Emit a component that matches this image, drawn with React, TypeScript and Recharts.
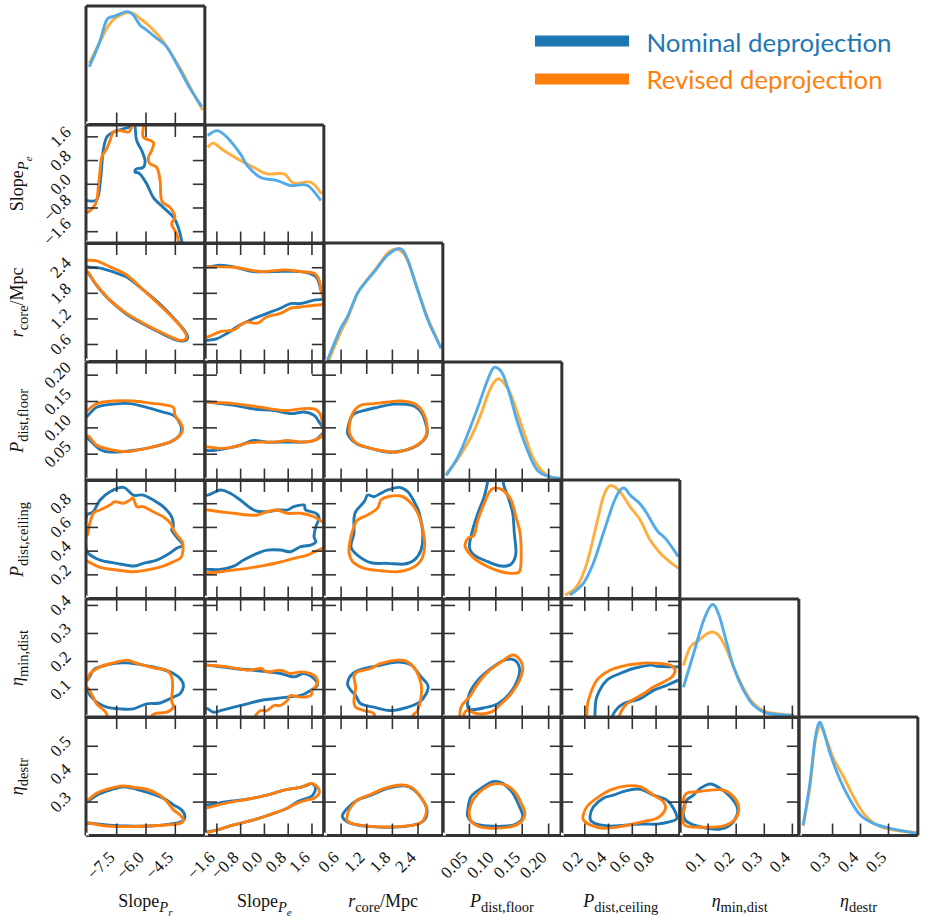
import React from 'react';
import { LineChart, Line, XAxis, YAxis } from 'recharts';

type P = [number, number];

// ---------------- parameters / axes ----------------
const paramDomains: [number, number][] = [
  [-9.07, -2.99], [-2.0, 2.0], [0.2, 2.98], [0.0, 0.225], [0.0, 1.0], [0.0, 0.423], [0.18, 0.605],
];
const paramTicks: number[][] = [
  [-7.5, -6.0, -4.5],
  [-1.6, -0.8, 0.0, 0.8, 1.6],
  [0.6, 1.2, 1.8, 2.4],
  [0.05, 0.1, 0.15, 0.2],
  [0.2, 0.4, 0.6, 0.8],
  [0.1, 0.2, 0.3, 0.4],
  [0.3, 0.4, 0.5],
];
const paramDecimals = [1, 1, 1, 2, 1, 1, 1];
const densityDomain: [number, number] = [0, 1.05];
const legendLabels = ['Nominal deprojection', 'Revised deprojection'];
// [text, level(0 main,1 sub,2 subsub), italic]
const paramTitles: [string, number, boolean][][] = [
  [['Slope', 0, false], ['P', 1, true], ['r', 2, true]],
  [['Slope', 0, false], ['P', 1, true], ['e', 2, true]],
  [['r', 0, true], ['core', 1, false], ['/Mpc', 0, false]],
  [['P', 0, true], ['dist,floor', 1, false]],
  [['P', 0, true], ['dist,ceiling', 1, false]],
  [['\u03b7', 0, true], ['min,dist', 1, false]],
  [['\u03b7', 0, true], ['destr', 1, false]],
];

// ---------------- 1D densities (diagonal) ----------------
const d00N: P[] = [[-8.90, 0.512], [-8.40, 0.719], [-8.01, 0.926], [-7.59, 0.961], [-6.99, 1.0], [-6.65, 0.970], [-6.31, 0.882], [-5.97, 0.837], [-5.45, 0.764], [-4.94, 0.689], [-4.26, 0.483], [-3.75, 0.321], [-3.15, 0.158]];
const d00R: P[] = [[-8.90, 0.542], [-8.35, 0.734], [-8.01, 0.852], [-7.59, 0.941], [-6.99, 0.991], [-6.65, 0.985], [-6.31, 0.941], [-5.80, 0.867], [-5.12, 0.734], [-4.26, 0.498], [-3.58, 0.276], [-3.10, 0.128]];
const d11N: P[] = [[-1.91, 0.957], [-1.59, 1.0], [-1.26, 0.942], [-0.81, 0.795], [-0.58, 0.691], [-0.14, 0.587], [0.43, 0.558], [0.88, 0.514], [1.45, 0.514], [1.90, 0.381]];
const d11R: P[] = [[-1.91, 0.853], [-1.71, 0.889], [-1.37, 0.824], [-0.81, 0.736], [-0.36, 0.676], [0.09, 0.617], [0.66, 0.617], [0.99, 0.534], [1.56, 0.543], [1.93, 0.440]];
const d22N: P[] = [[0.28, 0.013], [0.59, 0.294], [0.75, 0.397], [0.98, 0.604], [1.18, 0.707], [1.41, 0.811], [1.69, 0.944], [1.98, 1.0], [2.16, 0.899], [2.39, 0.634], [2.63, 0.368], [2.94, 0.117]];
const d22R: P[] = [[0.30, 0.0], [0.59, 0.26], [0.75, 0.38], [0.98, 0.60], [1.18, 0.71], [1.41, 0.82], [1.69, 0.96], [1.90, 0.995], [2.05, 0.96], [2.16, 0.89], [2.39, 0.64], [2.63, 0.38], [2.94, 0.12]];
const d33N: P[] = [[0.006, 0.044], [0.028, 0.206], [0.047, 0.414], [0.066, 0.649], [0.084, 0.886], [0.094, 0.99], [0.102, 1.0], [0.113, 0.945], [0.126, 0.768], [0.141, 0.517], [0.160, 0.266], [0.179, 0.089], [0.205, 0.03], [0.222, 0.02]];
const d33R: P[] = [[0.006, 0.059], [0.028, 0.192], [0.053, 0.384], [0.072, 0.591], [0.088, 0.797], [0.104, 0.901], [0.123, 0.813], [0.135, 0.680], [0.154, 0.414], [0.173, 0.177], [0.198, 0.044], [0.222, 0.02]];
const d44N: P[] = [[0.076, 0.031], [0.188, 0.135], [0.272, 0.312], [0.356, 0.578], [0.441, 0.844], [0.497, 0.961], [0.54, 0.975], [0.581, 0.917], [0.666, 0.837], [0.722, 0.755], [0.806, 0.607], [0.890, 0.518], [0.988, 0.370]];
const d44R: P[] = [[0.034, 0.031], [0.132, 0.105], [0.217, 0.312], [0.301, 0.666], [0.356, 0.902], [0.413, 1.0], [0.497, 0.946], [0.581, 0.813], [0.666, 0.696], [0.750, 0.518], [0.834, 0.403], [0.918, 0.323], [0.988, 0.268]];
const d55N: P[] = [[0.012, 0.268], [0.048, 0.564], [0.084, 0.859], [0.114, 1.0], [0.137, 0.919], [0.161, 0.711], [0.191, 0.446], [0.227, 0.239], [0.263, 0.106], [0.311, 0.038], [0.406, 0.018]];
const d55R: P[] = [[0.012, 0.461], [0.036, 0.623], [0.066, 0.682], [0.096, 0.742], [0.119, 0.756], [0.143, 0.711], [0.167, 0.594], [0.191, 0.446], [0.227, 0.254], [0.263, 0.121], [0.311, 0.047], [0.406, 0.018]];
const d66N: P[] = [[0.195, 0.093], [0.219, 0.463], [0.237, 0.846], [0.252, 1.0], [0.267, 0.935], [0.291, 0.728], [0.327, 0.492], [0.363, 0.315], [0.399, 0.182], [0.446, 0.108], [0.506, 0.064], [0.601, 0.019]];
const d66R: P[] = [[0.195, 0.084], [0.219, 0.432], [0.237, 0.817], [0.255, 0.964], [0.279, 0.846], [0.303, 0.684], [0.339, 0.521], [0.375, 0.344], [0.411, 0.197], [0.458, 0.093], [0.518, 0.049], [0.601, 0.025]];

// ---------------- 2D contours (row param = y, col param = x) ----------------
const c10N: P[] = [[-9.4, -0.55], [-9.07, -0.55], [-8.52, -0.52], [-8.35, 0.01], [-8.27, 0.57], [-8.19, 1.14], [-8.01, 1.59], [-7.67, 1.76], [-7.16, 1.87], [-6.82, 1.96], [-6.74, 2.3], [-6.6, 2.3], [-6.55, 1.9], [-6.48, 1.48], [-6.22, 1.14], [-6.05, 0.80], [-6.14, 0.57], [-6.48, 0.52], [-6.56, 0.41], [-6.31, 0.35], [-5.96, 0.01], [-5.63, -0.44], [-5.12, -0.78], [-4.60, -1.11], [-4.35, -1.45], [-4.18, -1.90], [-4.12, -2.3]];
const c10R: P[] = [[-9.4, -1.0], [-9.0, -0.95], [-8.70, -0.78], [-8.52, -0.55], [-8.44, -0.10], [-8.35, 0.46], [-8.27, 0.91], [-8.01, 1.20], [-7.84, 1.48], [-7.67, 1.76], [-7.33, 1.81], [-6.91, 1.76], [-6.74, 1.93], [-6.7, 2.3], [-6.15, 2.3], [-6.14, 1.93], [-6.14, 1.59], [-5.63, 1.42], [-5.71, 1.14], [-5.88, 0.91], [-5.80, 0.69], [-5.45, 0.57], [-5.28, 0.13], [-5.20, -0.55], [-4.77, -0.78], [-4.52, -1.11], [-4.69, -1.34], [-4.43, -1.68], [-4.35, -1.90], [-4.33, -2.3]];
const c20N: P[] = [[-9.3, 2.52], [-9.0, 2.42], [-8.35, 2.39], [-7.67, 2.30], [-6.99, 2.18], [-6.14, 1.88], [-5.29, 1.55], [-4.60, 1.23], [-4.09, 0.96], [-3.87, 0.79], [-4.01, 0.69], [-4.43, 0.70], [-5.29, 0.88], [-6.14, 1.08], [-6.99, 1.31], [-7.84, 1.63], [-8.52, 1.98], [-9.0, 2.30], [-9.3, 2.38]];
const c20R: P[] = [[-9.3, 2.62], [-9.0, 2.58], [-8.52, 2.56], [-7.84, 2.42], [-6.99, 2.23], [-6.14, 1.88], [-5.29, 1.52], [-4.60, 1.21], [-4.09, 0.94], [-3.92, 0.78], [-4.09, 0.70], [-4.43, 0.72], [-5.29, 0.90], [-6.14, 1.10], [-6.99, 1.33], [-7.84, 1.64], [-8.52, 1.99], [-9.0, 2.31], [-9.3, 2.4]];
const c30N: P[] = [[-9.3, 0.12], [-9.07, 0.120], [-8.52, 0.139], [-7.67, 0.145], [-6.82, 0.146], [-5.97, 0.139], [-5.12, 0.130], [-4.60, 0.124], [-4.35, 0.114], [-4.18, 0.098], [-4.35, 0.083], [-4.77, 0.073], [-5.63, 0.064], [-6.65, 0.057], [-7.84, 0.054], [-8.35, 0.059], [-8.86, 0.076], [-9.07, 0.083], [-9.3, 0.083]];
const c30R: P[] = [[-9.3, 0.13], [-9.00, 0.133], [-8.52, 0.146], [-7.67, 0.151], [-6.65, 0.151], [-5.80, 0.147], [-5.12, 0.144], [-4.60, 0.139], [-4.52, 0.124], [-4.26, 0.111], [-4.12, 0.098], [-4.26, 0.086], [-4.60, 0.076], [-5.12, 0.069], [-5.97, 0.061], [-6.99, 0.055], [-7.84, 0.059], [-8.52, 0.067], [-8.90, 0.083], [-9.07, 0.086], [-9.3, 0.086]];
const c40N: P[] = [[-9.02, 0.705], [-8.70, 0.732], [-8.35, 0.831], [-7.84, 0.901], [-7.16, 0.938], [-6.65, 0.873], [-6.14, 0.873], [-5.63, 0.831], [-5.12, 0.775], [-4.69, 0.690], [-4.60, 0.606], [-4.69, 0.578], [-4.43, 0.519], [-4.12, 0.451], [-4.43, 0.424], [-4.94, 0.367], [-5.45, 0.325], [-6.14, 0.297], [-6.65, 0.274], [-7.50, 0.297], [-8.35, 0.325], [-8.86, 0.367], [-9.05, 0.409], [-9.1, 0.494], [-9.1, 0.620]];
const c40R: P[] = [[-9.3, 0.52], [-9.0, 0.536], [-8.9, 0.62], [-8.70, 0.719], [-8.35, 0.747], [-7.84, 0.789], [-7.59, 0.817], [-7.16, 0.803], [-6.82, 0.831], [-6.65, 0.846], [-6.48, 0.775], [-6.14, 0.775], [-5.63, 0.732], [-5.12, 0.690], [-4.74, 0.635], [-4.60, 0.578], [-4.35, 0.522], [-4.12, 0.466], [-4.18, 0.353], [-4.60, 0.311], [-5.12, 0.274], [-5.97, 0.241], [-6.65, 0.226], [-7.50, 0.241], [-8.35, 0.263], [-8.95, 0.311], [-9.07, 0.325], [-9.3, 0.33]];
const c50N: P[] = [[-9.3, 0.13], [-9.0, 0.133], [-8.70, 0.169], [-8.35, 0.181], [-7.67, 0.193], [-6.99, 0.195], [-6.14, 0.187], [-5.29, 0.175], [-4.60, 0.157], [-4.18, 0.133], [-4.09, 0.109], [-4.26, 0.085], [-4.60, 0.073], [-5.29, 0.052], [-5.97, 0.049], [-6.65, 0.031], [-7.33, 0.031], [-8.01, 0.037], [-8.52, 0.055], [-8.86, 0.079], [-9.0, 0.097], [-9.3, 0.10]];
const c50R: P[] = [[-9.3, 0.14], [-9.0, 0.133], [-8.86, 0.157], [-8.35, 0.181], [-7.67, 0.195], [-6.99, 0.205], [-6.65, 0.198], [-6.14, 0.187], [-5.45, 0.175], [-4.94, 0.169], [-4.69, 0.145], [-4.64, 0.109], [-4.69, 0.061], [-4.60, 0.037], [-4.94, 0.019], [-5.54, 0.014], [-5.71, 0.001], [-5.8, -0.05], [-7.9, -0.05], [-8.01, 0.013], [-8.52, 0.049], [-8.95, 0.103], [-9.3, 0.11]];
const c60N: P[] = [[-9.3, 0.30], [-9.0, 0.301], [-8.52, 0.325], [-7.84, 0.343], [-7.16, 0.355], [-6.48, 0.346], [-5.80, 0.332], [-5.12, 0.314], [-4.60, 0.290], [-4.18, 0.272], [-4.01, 0.248], [-4.18, 0.230], [-4.77, 0.221], [-5.80, 0.214], [-6.99, 0.214], [-8.01, 0.218], [-8.86, 0.224], [-9.3, 0.225]];
const c60R: P[] = [[-9.3, 0.305], [-9.0, 0.307], [-8.52, 0.332], [-7.84, 0.349], [-7.16, 0.358], [-6.65, 0.353], [-5.97, 0.346], [-5.29, 0.325], [-4.86, 0.296], [-4.60, 0.272], [-4.26, 0.254], [-4.09, 0.236], [-4.26, 0.224], [-4.94, 0.218], [-5.97, 0.214], [-6.99, 0.212], [-8.01, 0.214], [-8.86, 0.224], [-9.3, 0.225]];
const c21N: P[] = [[-2.2, 2.45], [-1.91, 2.42], [-1.48, 2.46], [-1.03, 2.42], [-0.36, 2.31], [0.32, 2.31], [1.22, 2.31], [1.73, 2.19], [1.90, 1.88], [1.99, 1.72], [1.92, 1.66], [1.67, 1.64], [1.22, 1.56], [0.88, 1.56], [0.54, 1.45], [0.09, 1.33], [-0.36, 1.21], [-0.81, 1.06], [-1.26, 0.86], [-1.59, 0.74], [-1.91, 0.70], [-2.2, 0.69]];
const c21R: P[] = [[-2.2, 2.44], [-1.91, 2.42], [-1.03, 2.41], [-0.13, 2.31], [0.66, 2.35], [1.22, 2.31], [1.67, 2.27], [1.84, 2.11], [1.90, 1.88], [1.98, 1.70], [1.99, 1.58], [1.90, 1.53], [1.67, 1.52], [1.22, 1.48], [0.88, 1.45], [0.54, 1.33], [0.09, 1.25], [-0.24, 1.10], [-0.58, 1.13], [-0.81, 1.06], [-1.03, 0.94], [-1.48, 0.90], [-1.91, 0.78], [-2.2, 0.77]];
const c31N: P[] = [[-2.2, 0.151], [-1.91, 0.149], [-1.03, 0.143], [-0.36, 0.136], [0.32, 0.133], [0.88, 0.127], [1.33, 0.130], [1.67, 0.124], [1.84, 0.111], [1.95, 0.102], [1.99, 0.095], [1.95, 0.089], [1.67, 0.076], [1.22, 0.073], [0.77, 0.073], [0.09, 0.073], [-0.36, 0.076], [-0.81, 0.067], [-1.26, 0.061], [-1.71, 0.057], [-1.91, 0.057], [-2.2, 0.057]];
const c31R: P[] = [[-2.2, 0.151], [-1.91, 0.149], [-1.03, 0.146], [-0.13, 0.139], [0.66, 0.133], [1.22, 0.136], [1.67, 0.136], [1.87, 0.127], [1.95, 0.111], [1.99, 0.099], [1.95, 0.086], [1.67, 0.076], [1.22, 0.073], [0.77, 0.076], [0.32, 0.073], [-0.13, 0.073], [-0.58, 0.071], [-1.03, 0.064], [-1.48, 0.061], [-1.91, 0.064], [-2.2, 0.065]];
const c41N: P[] = [[-2.2, 0.88], [-1.91, 0.873], [-1.48, 0.916], [-1.15, 0.888], [-0.81, 0.831], [-0.36, 0.747], [0.09, 0.732], [0.43, 0.747], [0.77, 0.747], [0.99, 0.775], [1.33, 0.789], [1.39, 0.747], [1.73, 0.719], [1.84, 0.677], [1.73, 0.606], [1.67, 0.522], [1.73, 0.479], [1.56, 0.451], [1.22, 0.437], [0.88, 0.395], [0.54, 0.409], [0.09, 0.409], [-0.24, 0.381], [-0.70, 0.325], [-1.03, 0.274], [-1.48, 0.246], [-1.91, 0.246], [-2.2, 0.246]];
const c41R: P[] = [[-2.2, 0.75], [-1.91, 0.747], [-1.48, 0.732], [-1.03, 0.719], [-0.58, 0.705], [-0.24, 0.705], [0.09, 0.732], [0.43, 0.747], [0.77, 0.719], [1.22, 0.719], [1.67, 0.690], [1.95, 0.648], [2.2, 0.62], [2.2, 0.44], [1.95, 0.424], [1.45, 0.367], [0.99, 0.339], [0.43, 0.302], [-0.13, 0.274], [-0.58, 0.255], [-1.03, 0.241], [-1.48, 0.226], [-1.91, 0.218], [-2.2, 0.215]];
const c51N: P[] = [[-2.2, 0.19], [-1.91, 0.187], [-1.03, 0.175], [-0.36, 0.169], [0.09, 0.163], [0.54, 0.157], [0.99, 0.145], [1.33, 0.157], [1.67, 0.139], [1.78, 0.115], [1.56, 0.097], [1.22, 0.079], [0.77, 0.073], [0.32, 0.067], [-0.13, 0.061], [-0.58, 0.049], [-1.03, 0.037], [-1.48, 0.025], [-1.71, 0.019], [-1.91, 0.031], [-2.2, 0.04]];
const c51R: P[] = [[-2.2, 0.19], [-1.91, 0.187], [-1.26, 0.181], [-0.58, 0.169], [-0.13, 0.175], [0.09, 0.163], [0.54, 0.169], [0.88, 0.157], [1.22, 0.163], [1.56, 0.157], [1.73, 0.145], [1.78, 0.121], [1.61, 0.097], [1.56, 0.079], [1.22, 0.073], [0.88, 0.079], [0.77, 0.061], [0.54, 0.043], [0.32, 0.043], [0.09, 0.025], [-0.13, 0.025], [-0.30, 0.007], [-0.40, -0.03]];
const c61N: P[] = [[-2.2, 0.29], [-1.91, 0.29], [-1.26, 0.301], [-0.58, 0.310], [0.09, 0.325], [0.66, 0.343], [1.22, 0.353], [1.45, 0.361], [1.60, 0.366], [1.72, 0.351], [1.63, 0.325], [1.45, 0.314], [1.11, 0.301], [0.77, 0.278], [0.32, 0.260], [-0.36, 0.236], [-1.03, 0.218], [-1.59, 0.200], [-1.91, 0.194], [-2.2, 0.19]];
const c61R: P[] = [[-2.2, 0.28], [-1.91, 0.28], [-1.26, 0.297], [-0.58, 0.310], [0.09, 0.325], [0.66, 0.343], [1.22, 0.353], [1.56, 0.367], [1.78, 0.355], [1.84, 0.332], [1.67, 0.314], [1.45, 0.308], [1.11, 0.296], [0.77, 0.278], [0.32, 0.260], [-0.36, 0.236], [-1.03, 0.218], [-1.59, 0.200], [-1.91, 0.191], [-2.2, 0.185]];
const c32N: P[] = [[0.75, 0.095], [0.867, 0.124], [1.14, 0.133], [1.45, 0.139], [1.84, 0.145], [2.24, 0.143], [2.47, 0.130], [2.61, 0.098], [2.59, 0.083], [2.39, 0.067], [2.08, 0.057], [1.69, 0.054], [1.30, 0.061], [0.98, 0.069], [0.79, 0.083]];
const c32R: P[] = [[0.787, 0.098], [0.867, 0.127], [1.06, 0.143], [1.37, 0.146], [1.69, 0.149], [2.0, 0.151], [2.31, 0.146], [2.51, 0.130], [2.61, 0.102], [2.55, 0.080], [2.31, 0.064], [1.92, 0.054], [1.61, 0.056], [1.30, 0.061], [0.98, 0.070], [0.83, 0.083]];
const c42N: P[] = [[0.90, 0.662], [0.94, 0.732], [1.14, 0.817], [1.22, 0.873], [1.37, 0.859], [1.53, 0.888], [1.69, 0.916], [1.96, 0.938], [2.16, 0.901], [2.31, 0.817], [2.43, 0.719], [2.51, 0.550], [2.47, 0.409], [2.31, 0.325], [2.08, 0.291], [1.69, 0.297], [1.30, 0.302], [0.98, 0.367], [0.83, 0.437], [0.90, 0.550]];
const c42R: P[] = [[0.79, 0.437], [0.83, 0.522], [0.90, 0.606], [0.98, 0.662], [1.22, 0.705], [1.45, 0.761], [1.53, 0.831], [1.69, 0.859], [2.0, 0.865], [2.24, 0.803], [2.43, 0.690], [2.55, 0.494], [2.51, 0.353], [2.31, 0.268], [1.92, 0.226], [1.53, 0.235], [1.14, 0.255], [0.87, 0.311], [0.79, 0.381]];
const c52N: P[] = [[0.75, 0.122], [0.87, 0.157], [1.14, 0.175], [1.53, 0.187], [1.92, 0.198], [2.24, 0.187], [2.47, 0.145], [2.63, 0.115], [2.59, 0.085], [2.43, 0.055], [2.16, 0.037], [1.77, 0.025], [1.37, 0.037], [1.06, 0.049], [0.94, 0.079], [0.83, 0.097]];
const c52R: P[] = [[1.37, -0.03], [1.37, 0.013], [1.14, 0.025], [0.94, 0.037], [0.90, 0.061], [0.94, 0.109], [0.90, 0.145], [0.98, 0.163], [1.30, 0.175], [1.53, 0.193], [1.92, 0.205], [2.16, 0.198], [2.35, 0.169], [2.47, 0.121], [2.47, 0.073], [2.39, 0.025], [2.28, 0.007], [2.23, -0.03]];
const c62N: P[] = [[0.63, 0.248], [0.75, 0.278], [0.98, 0.307], [1.30, 0.325], [1.69, 0.349], [2.08, 0.358], [2.31, 0.343], [2.51, 0.307], [2.61, 0.272], [2.55, 0.236], [2.31, 0.218], [1.84, 0.210], [1.30, 0.212], [0.83, 0.224]];
const c62R: P[] = [[0.73, 0.242], [0.79, 0.272], [0.98, 0.307], [1.30, 0.328], [1.61, 0.349], [2.0, 0.361], [2.24, 0.353], [2.43, 0.325], [2.59, 0.283], [2.55, 0.242], [2.39, 0.221], [1.92, 0.212], [1.37, 0.212], [0.90, 0.221], [0.75, 0.233]];
const c43N: P[] = [[0.085, 1.06], [0.085, 1.0], [0.078, 0.859], [0.066, 0.719], [0.056, 0.578], [0.050, 0.437], [0.059, 0.367], [0.085, 0.311], [0.110, 0.274], [0.129, 0.291], [0.138, 0.381], [0.135, 0.550], [0.132, 0.719], [0.123, 0.859], [0.115, 0.958], [0.113, 1.06]];
const c43R: P[] = [[0.097, 0.930], [0.113, 0.916], [0.129, 0.831], [0.138, 0.690], [0.146, 0.550], [0.148, 0.381], [0.146, 0.241], [0.135, 0.213], [0.110, 0.226], [0.085, 0.268], [0.059, 0.339], [0.042, 0.437], [0.047, 0.508], [0.059, 0.536], [0.066, 0.662], [0.078, 0.803], [0.088, 0.901]];
const c53N: P[] = [[0.047, 0.037], [0.050, 0.085], [0.066, 0.133], [0.091, 0.175], [0.116, 0.205], [0.135, 0.205], [0.145, 0.175], [0.141, 0.133], [0.126, 0.085], [0.104, 0.049], [0.078, 0.035], [0.056, 0.028]];
const c53R: P[] = [[0.031, -0.03], [0.034, 0.037], [0.050, 0.073], [0.066, 0.121], [0.085, 0.163], [0.110, 0.198], [0.129, 0.222], [0.141, 0.216], [0.151, 0.181], [0.145, 0.133], [0.129, 0.085], [0.107, 0.043], [0.091, 0.019], [0.066, 0.013], [0.047, 0.025], [0.040, 0.013], [0.036, -0.03]];
const c63N: P[] = [[0.047, 0.272], [0.053, 0.319], [0.072, 0.349], [0.094, 0.373], [0.113, 0.367], [0.132, 0.332], [0.145, 0.283], [0.151, 0.248], [0.141, 0.224], [0.123, 0.214], [0.085, 0.214], [0.059, 0.224], [0.047, 0.248]];
const c63R: P[] = [[0.050, 0.272], [0.059, 0.314], [0.078, 0.349], [0.097, 0.365], [0.119, 0.361], [0.138, 0.332], [0.148, 0.296], [0.155, 0.260], [0.148, 0.230], [0.129, 0.212], [0.097, 0.206], [0.069, 0.212], [0.053, 0.233]];
const c54N: P[] = [[0.286, -0.03], [0.286, 0.013], [0.301, 0.073], [0.385, 0.133], [0.497, 0.157], [0.609, 0.175], [0.750, 0.187], [0.806, 0.183], [0.946, 0.181], [0.988, 0.181], [1.06, 0.18], [1.06, 0.133], [0.988, 0.133], [0.890, 0.115], [0.778, 0.097], [0.666, 0.067], [0.525, 0.049], [0.441, 0.013], [0.421, -0.03]];
const c54R: P[] = [[0.217, -0.03], [0.217, 0.013], [0.230, 0.061], [0.301, 0.133], [0.413, 0.169], [0.553, 0.187], [0.666, 0.193], [0.722, 0.195], [0.834, 0.193], [0.918, 0.187], [0.960, 0.169], [0.933, 0.145], [0.862, 0.127], [0.778, 0.109], [0.693, 0.085], [0.553, 0.049], [0.497, 0.013], [0.472, -0.03]];
const c64N: P[] = [[0.244, 0.248], [0.272, 0.283], [0.356, 0.314], [0.441, 0.325], [0.553, 0.341], [0.666, 0.346], [0.778, 0.325], [0.890, 0.307], [0.946, 0.278], [0.975, 0.242], [0.918, 0.230], [0.806, 0.221], [0.666, 0.221], [0.441, 0.214], [0.329, 0.218], [0.259, 0.230]];
const c64R: P[] = [[0.188, 0.254], [0.217, 0.283], [0.301, 0.314], [0.413, 0.343], [0.553, 0.358], [0.666, 0.355], [0.778, 0.325], [0.862, 0.301], [0.876, 0.272], [0.806, 0.242], [0.693, 0.230], [0.497, 0.212], [0.356, 0.206], [0.244, 0.218], [0.188, 0.236]];
const c65N: P[] = [[0.012, 0.272], [0.024, 0.307], [0.048, 0.325], [0.072, 0.349], [0.108, 0.365], [0.143, 0.349], [0.179, 0.319], [0.203, 0.283], [0.203, 0.254], [0.179, 0.218], [0.143, 0.203], [0.096, 0.206], [0.048, 0.218], [0.018, 0.236]];
const c65R: P[] = [[0.012, 0.307], [0.024, 0.332], [0.060, 0.337], [0.108, 0.343], [0.155, 0.343], [0.191, 0.319], [0.209, 0.283], [0.203, 0.248], [0.179, 0.224], [0.143, 0.212], [0.084, 0.210], [0.030, 0.212], [0.012, 0.224], [0.010, 0.260], [0.018, 0.283]];

const diagonals: [P[], P[]][] = [[d00N, d00R], [d11N, d11R], [d22N, d22R], [d33N, d33R], [d44N, d44R], [d55N, d55R], [d66N, d66R]];
const contours: { row: number; col: number; nom: P[]; rev: P[]; nomClosed: boolean; revClosed: boolean }[] = [
  { row: 1, col: 0, nom: c10N, rev: c10R, nomClosed: false, revClosed: false },
  { row: 2, col: 0, nom: c20N, rev: c20R, nomClosed: false, revClosed: false },
  { row: 3, col: 0, nom: c30N, rev: c30R, nomClosed: false, revClosed: false },
  { row: 4, col: 0, nom: c40N, rev: c40R, nomClosed: true, revClosed: false },
  { row: 5, col: 0, nom: c50N, rev: c50R, nomClosed: false, revClosed: false },
  { row: 6, col: 0, nom: c60N, rev: c60R, nomClosed: false, revClosed: false },
  { row: 2, col: 1, nom: c21N, rev: c21R, nomClosed: false, revClosed: false },
  { row: 3, col: 1, nom: c31N, rev: c31R, nomClosed: false, revClosed: false },
  { row: 4, col: 1, nom: c41N, rev: c41R, nomClosed: false, revClosed: false },
  { row: 5, col: 1, nom: c51N, rev: c51R, nomClosed: false, revClosed: false },
  { row: 6, col: 1, nom: c61N, rev: c61R, nomClosed: false, revClosed: false },
  { row: 3, col: 2, nom: c32N, rev: c32R, nomClosed: true, revClosed: true },
  { row: 4, col: 2, nom: c42N, rev: c42R, nomClosed: true, revClosed: true },
  { row: 5, col: 2, nom: c52N, rev: c52R, nomClosed: true, revClosed: false },
  { row: 6, col: 2, nom: c62N, rev: c62R, nomClosed: true, revClosed: true },
  { row: 4, col: 3, nom: c43N, rev: c43R, nomClosed: false, revClosed: true },
  { row: 5, col: 3, nom: c53N, rev: c53R, nomClosed: true, revClosed: false },
  { row: 6, col: 3, nom: c63N, rev: c63R, nomClosed: true, revClosed: true },
  { row: 5, col: 4, nom: c54N, rev: c54R, nomClosed: false, revClosed: false },
  { row: 6, col: 4, nom: c64N, rev: c64R, nomClosed: true, revClosed: true },
  { row: 6, col: 5, nom: c65N, rev: c65R, nomClosed: true, revClosed: true },
];

// ---------------- styling / layout ----------------
const NOM_C = '#1f77b4';
const REV_C = '#ff7f0e';
const NOM_D = '#52aae6';
const REV_D = '#ffae3e';
const FRAME = '#333333';
const FRAME_W = 3;
const TICK_LEN = 12;
const TICK_FS = 17;
const LINE_W = 2.9;
const SERIF = '"Liberation Serif", "Times New Roman", serif';
const SANS = 'Lato, "DejaVu Sans", sans-serif';

const X0 = 86, Y0 = 6, CW = 118.85, RH = 118.55;
const COL_L = [0, 1, 2, 3, 4, 5, 6].map((i) => X0 + i * CW);
const ROW_T = [0, 1, 2, 3, 4, 5, 6].map((i) => Y0 + i * RH);
const LEFT_M = X0;
const BOTTOM_M = 921 - (Y0 + 7 * RH);
const PAD = 30;

// Catmull-Rom curve factory (handles closed loops and back-tracking paths)
const catmull: any = (context: any) => {
  let pts: number[][] = [];
  return {
    areaStart() {},
    areaEnd() {},
    lineStart() { pts = []; },
    point(x: number, y: number) { pts.push([+x, +y]); },
    lineEnd() {
      const n = pts.length;
      if (!n) return;
      context.moveTo(pts[0][0], pts[0][1]);
      if (n === 1) return;
      const closed = n > 3 && Math.abs(pts[0][0] - pts[n - 1][0]) < 0.01 && Math.abs(pts[0][1] - pts[n - 1][1]) < 0.01;
      for (let i = 0; i < n - 1; i++) {
        const p1 = pts[i];
        const p2 = pts[i + 1];
        const p0 = i > 0 ? pts[i - 1] : closed ? pts[n - 2] : p1;
        const p3 = i + 2 < n ? pts[i + 2] : closed ? pts[1] : p2;
        context.bezierCurveTo(
          p1[0] + (p2[0] - p0[0]) / 6, p1[1] + (p2[1] - p0[1]) / 6,
          p2[0] - (p3[0] - p1[0]) / 6, p2[1] - (p3[1] - p1[1]) / 6,
          p2[0], p2[1],
        );
      }
      if (closed) context.closePath();
    },
  };
};

const toPts = (a: P[], closed: boolean) => {
  const pts = a.map(([x, y]) => ({ x, y }));
  if (closed) pts.push({ x: a[0][0], y: a[0][1] });
  return pts;
};

const fmtTick = (v: number, d: number) => v.toFixed(d).replace('-', '\u2212');
const textLen = (s: string) => {
  let w = 0;
  for (const c of s) w += c === '.' ? 0.25 : c === '\u2212' ? 0.564 : 0.5;
  return w * TICK_FS;
};

const EmptyTick = () => <g />;

const RotLabel = ({ ax, ay, s }: { ax: number; ay: number; s: string }) => (
  <g transform={`translate(${ax} ${ay}) rotate(-45)`}>
    <text x={0} y={0} textAnchor="end" fontFamily={SERIF} fontSize={TICK_FS} fill="#111">
      {s}
    </text>
  </g>
);

const makeXLabel = (dec: number, baseY: number) => (props: any) => {
  const s = fmtTick(props.payload.value, dec);
  return <RotLabel ax={props.x - 1} ay={baseY} s={s} />;
};

const makeYLabel = (dec: number, baseX: number) => (props: any) => {
  const s = fmtTick(props.payload.value, dec);
  const L = textLen(s);
  return <RotLabel ax={baseX} ay={props.y - 0.354 * (L - 11)} s={s} />;
};

const LEVEL_FS = [18, 14.5, 11];
const LEVEL_OFF = [0, 5, 9];

function Title({ parts }: { parts: [string, number, boolean][] }) {
  let prev = 0;
  return (
    <>
      {parts.map(([t, lvl, it], i) => {
        const dy = LEVEL_OFF[lvl] - LEVEL_OFF[prev];
        prev = lvl;
        return (
          <tspan key={i} dy={dy} fontSize={LEVEL_FS[lvl]} fontStyle={it ? 'italic' : 'normal'}>
            {t}
          </tspan>
        );
      })}
    </>
  );
}

function Panel({ row, col, children }: { row: number; col: number; children: React.ReactNode }) {
  const diag = row === col;
  const ML = col === 0 ? LEFT_M : 0;
  const MB = row === 6 ? BOTTOM_M : 0;
  const w = CW + ML + 2 * PAD;
  const h = RH + MB + 2 * PAD;
  const xd = paramDomains[col];
  const yd = diag ? densityDomain : paramDomains[row];
  const frameLine = { stroke: FRAME, strokeWidth: FRAME_W };
  const tickLine = { stroke: FRAME, strokeWidth: 1.6 };
  const xTick = row === 6 ? makeXLabel(paramDecimals[col], PAD + RH + 23) : EmptyTick;
  const yTick = col === 0 && !diag ? makeYLabel(paramDecimals[row], PAD + ML - 14) : EmptyTick;
  return (
    <div style={{ position: 'absolute', left: COL_L[col] - ML - PAD, top: ROW_T[row] - PAD, width: w, height: h }}>
      <LineChart width={w} height={h} margin={{ top: PAD, right: PAD, bottom: MB + PAD, left: ML + PAD }}>
        <XAxis xAxisId="b" dataKey="x" type="number" domain={xd} allowDataOverflow orientation="bottom" mirror
          ticks={paramTicks[col]} interval={0} tickSize={TICK_LEN} tickLine={tickLine} axisLine={frameLine} tick={xTick} />
        <XAxis xAxisId="t" dataKey="x" type="number" domain={xd} allowDataOverflow orientation="top" mirror
          ticks={paramTicks[col]} interval={0} tickSize={TICK_LEN} tickLine={diag ? false : tickLine} axisLine={frameLine} tick={EmptyTick} />
        <YAxis yAxisId="l" type="number" domain={yd} allowDataOverflow orientation="left" mirror
          ticks={diag ? undefined : paramTicks[row]} interval={0} tickSize={TICK_LEN} tickLine={diag ? false : tickLine} axisLine={frameLine} tick={yTick} />
        <YAxis yAxisId="r" type="number" domain={yd} allowDataOverflow orientation="right" mirror
          ticks={diag ? undefined : paramTicks[row]} interval={0} tickSize={TICK_LEN} tickLine={diag ? false : tickLine} axisLine={frameLine} tick={EmptyTick} />
        <Line xAxisId="t" yAxisId="r" data={[{ x: xd[0], y: yd[0] }]} dataKey="y" stroke="none" dot={false} activeDot={false} isAnimationActive={false} />
        {children}
      </LineChart>
    </div>
  );
}

const series = (key: string, pts: { x: number; y: number }[], color: string) => (
  <Line key={key} xAxisId="b" yAxisId="l" data={pts} dataKey="y" type={catmull} stroke={color} strokeWidth={LINE_W}
    dot={false} activeDot={false} isAnimationActive={false} />
);

export default function App() {
  return (
    <div style={{ position: 'absolute', left: 0, top: 0, width: 927, height: 921, background: '#fff', overflow: 'hidden' }}>
      {diagonals.map(([nom, rev], i) => (
        <Panel key={`d${i}`} row={i} col={i}>
          {series('rev', toPts(rev, false), REV_D)}
          {series('nom', toPts(nom, false), NOM_D)}
        </Panel>
      ))}
      {contours.map((c) => (
        <Panel key={`c${c.row}${c.col}`} row={c.row} col={c.col}>
          {series('nom', toPts(c.nom, c.nomClosed), NOM_C)}
          {series('rev', toPts(c.rev, c.revClosed), REV_C)}
        </Panel>
      ))}
      <svg width={927} height={921} style={{ position: 'absolute', left: 0, top: 0, pointerEvents: 'none' }}>
        <line x1={535} x2={629} y1={41} y2={41} stroke={NOM_C} strokeWidth={11} />
        <line x1={535} x2={629} y1={79} y2={79} stroke={REV_C} strokeWidth={11} />
        <text x={646.5} y={51.5} fontFamily={SANS} fontSize={25} fill={NOM_C} textLength={245} lengthAdjust="spacingAndGlyphs">{legendLabels[0]}</text>
        <text x={646.5} y={88.5} fontFamily={SANS} fontSize={25} fill={REV_C} textLength={236} lengthAdjust="spacingAndGlyphs">{legendLabels[1]}</text>
        {paramTitles.map((parts, i) => (
          <text key={`bt${i}`} x={COL_L[i] + CW / 2} y={907} textAnchor="middle" fontFamily={SERIF} fill="#111">
            <Title parts={parts} />
          </text>
        ))}
        {paramTitles.slice(1).map((parts, k) => {
          const i = k + 1;
          const cy = ROW_T[i] + RH / 2;
          return (
            <text key={`lt${i}`} x={0} y={0} transform={`translate(23 ${cy}) rotate(-90)`} textAnchor="middle" fontFamily={SERIF} fill="#111">
              <Title parts={parts} />
            </text>
          );
        })}
      </svg>
    </div>
  );
}
